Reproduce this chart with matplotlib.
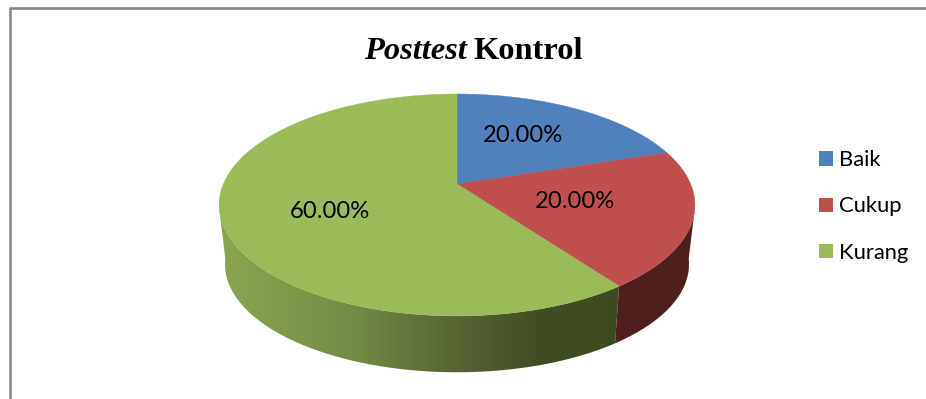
import numpy as np
import matplotlib
matplotlib.use("Agg")
import matplotlib.pyplot as plt
from matplotlib.colors import LinearSegmentedColormap
from matplotlib.patches import Polygon, Patch
from matplotlib.lines import Line2D

# Chart content
categories = ["Baik", "Cukup", "Kurang"]
percentages = [20.00, 20.00, 60.00]
value_labels = ["20.00%", "20.00%", "60.00%"]
colors = ["#4f81bd", "#c0504d", "#9bbb59"]

W, H = 926, 399
fig = plt.figure(figsize=(W / 100, H / 100), dpi=100, facecolor="white")
ax = fig.add_axes([0, 0, 1, 1])
ax.set_xlim(0, W)
ax.set_ylim(H, 0)
ax.axis("off")

# Perspective projection of the pie disc onto the page
CX = 457
APEX_Y = 184
TILT = 0.189


def project(theta, y_apex, rx, ry):
    """Map a clockwise-from-top angle on the unit disc to page coordinates."""
    px, py = np.sin(theta), np.cos(theta)
    w = 1 + TILT * py
    return CX + rx * px / w, y_apex - ry * py / w


def top(theta):
    return project(theta, APEX_Y, 233.6, 107)


def bottom(theta):
    return project(theta, 244, 227.8, 104)


fractions = np.array(percentages) / sum(percentages)
edges = np.concatenate([[0], np.cumsum(fractions)]) * 2 * np.pi

# Where the rim's silhouette leaves the upper disc and meets the lower one
RIM_LEFT_TOP, RIM_LEFT_BOTTOM = np.radians(255), np.radians(262)
RIM_RIGHT_TOP, RIM_RIGHT_BOTTOM = np.radians(105), np.radians(98)


def wall(top_from, top_to, bottom_from, bottom_to, cmap, z):
    """Side wall between two rim arcs, shaded left to right through cmap."""
    xt, yt = top(np.linspace(top_from, top_to, 300))
    xb, yb = bottom(np.linspace(bottom_to, bottom_from, 300))
    pts = np.column_stack([np.r_[xt, xb], np.r_[yt, yb]])
    clip = Polygon(pts, closed=True, transform=ax.transData, fc="none", ec="none")
    ax.add_patch(clip)
    grad = np.linspace(0, 1, 512).reshape(1, -1)
    im = ax.imshow(grad, cmap=cmap, extent=(215, 700, 380, 90), aspect="auto",
                   zorder=z, interpolation="bilinear")
    im.set_clip_path(clip)


green_side = LinearSegmentedColormap.from_list(
    "green_side",
    [(0.0, "#8ba650"), (0.28, "#748d46"), (0.38, "#66793d"),
     (0.50, "#566532"), (0.67, "#414e24"), (1.0, "#3c4920")],
)
red_side = LinearSegmentedColormap.from_list("red_side", ["#4d1f1d", "#4d1f1d"])

wall(edges[2], RIM_LEFT_TOP, edges[2], RIM_LEFT_BOTTOM, green_side, 1)
wall(RIM_RIGHT_TOP, edges[2], RIM_RIGHT_BOTTOM, edges[2], red_side, 2)
ax.set_xlim(0, W)
ax.set_ylim(H, 0)

# Top faces of the three slices
for i, c in enumerate(colors):
    x, y = top(np.linspace(edges[i], edges[i + 1], 240))
    pts = np.vstack([[(CX, APEX_Y)], np.column_stack([x, y])])
    ax.add_patch(Polygon(pts, closed=True, fc=c, ec=c, lw=0.3, zorder=3))

# Value labels on the slices
label_pos = [(523, 135), (575, 202), (330, 211)]
for (lx, ly), s in zip(label_pos, value_labels):
    ax.text(lx, ly, s, ha="center", va="center", fontsize=17.2,
            family="Lato", color="black", zorder=5)

# Two-part title: italic word followed by the upright word
ax.text(364, 59, "Posttest", family="Liberation Serif", style="italic",
        weight="bold", fontsize=23.4, ha="left", va="baseline", zorder=5)
ax.text(473, 59, "Kontrol", family="Liberation Serif", weight="bold",
        fontsize=23.4, ha="left", va="baseline", zorder=5)

# Legend on the right
handles = [Patch(fc=c, ec="none") for c in colors]
ax.legend(handles, categories, loc="center left", bbox_to_anchor=(819 / W, 1 - 206.5 / H),
          bbox_transform=fig.transFigure, frameon=False, handlelength=0.64,
          handleheight=0.64, handletextpad=0.27, labelspacing=1.2, borderpad=0,
          borderaxespad=0, prop={"family": "Lato", "size": 15.8})

# Chart area frame along the top and left
frame = "#888888"
ax.add_line(Line2D([9.5, W], [8, 8], color=frame, lw=1.9, solid_capstyle="butt", zorder=6))
ax.add_line(Line2D([9.5, 9.5], [7, H], color=frame, lw=1.9, solid_capstyle="butt", zorder=6))

fig.savefig("out.png", dpi=100, facecolor="white")
